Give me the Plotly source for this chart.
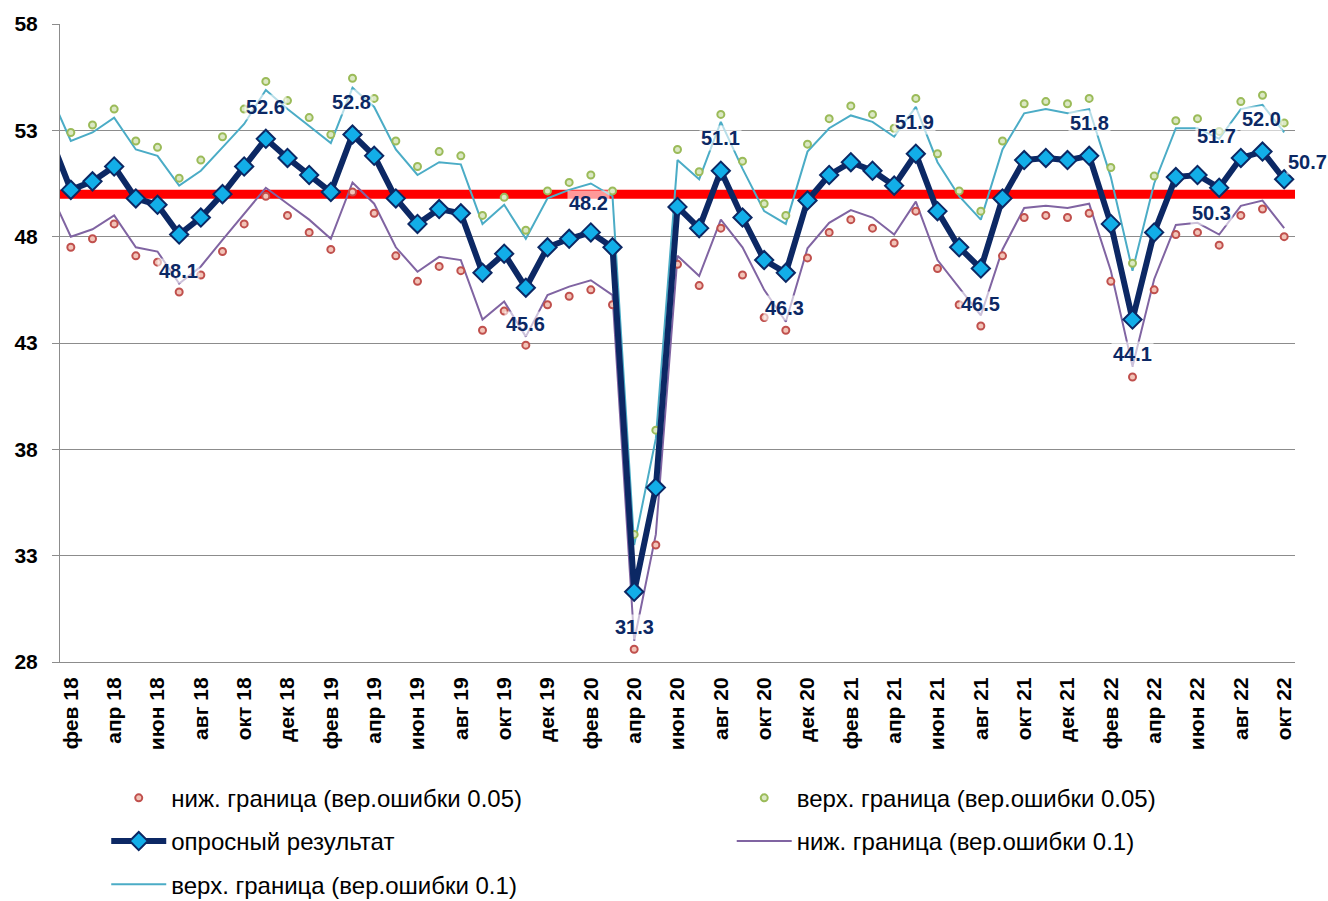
import plotly.graph_objects as go

# ---------------- data ----------------
MONTHS = [
    "янв 18", "фев 18", "мар 18", "апр 18", "май 18", "июн 18", "июл 18", "авг 18", "сен 18", "окт 18", "ноя 18", "дек 18",
    "янв 19", "фев 19", "мар 19", "апр 19", "май 19", "июн 19", "июл 19", "авг 19", "сен 19", "окт 19", "ноя 19", "дек 19",
    "янв 20", "фев 20", "мар 20", "апр 20", "май 20", "июн 20", "июл 20", "авг 20", "сен 20", "окт 20", "ноя 20", "дек 20",
    "янв 21", "фев 21", "мар 21", "апр 21", "май 21", "июн 21", "июл 21", "авг 21", "сен 21", "окт 21", "ноя 21", "дек 21",
    "янв 22", "фев 22", "мар 22", "апр 22", "май 22", "июн 22", "июл 22", "авг 22", "сен 22", "окт 22",
]

TICK_LABELS = [
    "фев 18", "апр 18", "июн 18", "авг 18", "окт 18", "дек 18",
    "фев 19", "апр 19", "июн 19", "авг 19", "окт 19", "дек 19",
    "фев 20", "апр 20", "июн 20", "авг 20", "окт 20", "дек 20",
    "фев 21", "апр 21", "июн 21", "авг 21", "окт 21", "дек 21",
    "фев 22", "апр 22", "июн 22", "авг 22", "окт 22",
]

SURVEY = [
    52.8,
    50.2, 50.6, 51.3, 49.8, 49.5, 48.1, 48.9, 50.0, 51.3, 52.6, 51.7, 50.9,
    50.1, 52.8, 51.8, 49.8, 48.6, 49.3, 49.1, 46.3, 47.2, 45.6, 47.5, 47.9,
    48.2, 47.5, 31.3, 36.2, 49.4, 48.4, 51.1, 48.9, 46.9, 46.3, 49.7, 50.9,
    51.5, 51.1, 50.4, 51.9, 49.2, 47.5, 46.5, 49.8, 51.6, 51.7, 51.6, 51.8,
    48.6, 44.1, 48.2, 50.8, 50.9, 50.3, 51.7, 52.0, 50.7,
]

UPPER_01 = [
    54.8,
    52.5, 52.9, 53.6, 52.1, 51.8, 50.4, 51.1, 52.2, 53.3, 54.9, 54.0, 53.2,
    52.4, 55.0, 54.1, 52.1, 50.9, 51.5, 51.4, 48.6, 49.5, 47.9, 49.8, 50.2,
    50.5, 49.9, 33.5, 38.5, 51.6, 50.7, 53.4, 51.2, 49.2, 48.6, 52.0, 53.1,
    53.7, 53.4, 52.7, 54.1, 51.5, 49.9, 48.8, 52.1, 53.8, 54.0, 53.8, 54.0,
    50.8, 46.4, 50.5, 53.1, 53.1, 52.6, 54.0, 54.2, 52.9,
]

LOWER_01 = [
    50.2,
    48.0, 48.35, 49.0, 47.5, 47.3, 45.8, 46.6, 47.85, 49.1, 50.3, 49.55, 48.8,
    47.9, 50.55, 49.55, 47.5, 46.35, 47.05, 46.9, 44.1, 44.95, 43.3, 45.25, 45.65,
    45.95, 45.25, 29.0, 34.0, 47.1, 46.15, 48.8, 47.5, 45.5, 44.0, 47.45, 48.65,
    49.25, 48.9, 48.1, 49.65, 46.9, 45.6, 44.3, 47.4, 49.35, 49.45, 49.35, 49.55,
    46.4, 41.9, 46.0, 48.55, 48.65, 48.1, 49.45, 49.7, 48.4,
]

UPPER_005 = [
    None,
    52.9, 53.25, 54.0, 52.5, 52.2, 50.75, 51.6, 52.7, 54.0, 55.3, 54.4, 53.6,
    52.8, 55.45, 54.5, 52.5, 51.3, 52.0, 51.8, 49.0, 49.85, 48.3, 50.15, 50.55,
    50.9, 50.15, 34.0, 38.9, 52.1, 51.05, 53.75, 51.55, 49.55, 49.0, 52.35, 53.55,
    54.15, 53.75, 53.1, 54.5, 51.9, 50.15, 49.2, 52.5, 54.25, 54.35, 54.25, 54.5,
    51.25, 46.75, 50.85, 53.45, 53.55, 52.95, 54.35, 54.65, 53.35,
]

LOWER_005 = [
    None,
    47.5, 47.9, 48.6, 47.1, 46.8, 45.4, 46.2, 47.3, 48.6, 49.9, 49.0, 48.2,
    47.4, 50.1, 49.1, 47.1, 45.9, 46.6, 46.4, 43.6, 44.5, 42.9, 44.8, 45.2,
    45.5, 44.8, 28.6, 33.5, 46.7, 45.7, 48.4, 46.2, 44.2, 43.6, 47.0, 48.2,
    48.8, 48.4, 47.7, 49.2, 46.5, 44.8, 43.8, 47.1, 48.9, 49.0, 48.9, 49.1,
    45.9, 41.4, 45.5, 48.1, 48.2, 47.6, 49.0, 49.3, 48.0,
]

LABELED_MONTHS = ["июл 18", "ноя 18", "мар 19", "ноя 19", "фев 20", "апр 20", "авг 20", "ноя 20",
                  "май 21", "авг 21", "янв 22", "мар 22", "июл 22", "авг 22", "сен 22", "окт 22"]

THRESHOLD = 50
Y_TICKS = [28, 33, 38, 43, 48, 53, 58]

# ---------------- style ----------------
# label offsets in pixels (xshift, yshift), same order as LABELED_MONTHS
LABEL_OFFSETS = [(-1, -36), (0, 32), (-1, 33), (0, -36), (-2, 29), (0, -35), (0, 33), (-1, -35),
                 (-1, 32), (0, -35), (0, 33), (0, -34), (-8, -25), (-24, 22), (-1, 33), (23, 17)]

NAVY = "#0c2864"
FONT = "Liberation Sans, Arial, sans-serif"

# categorical positions: фев 18 sits at 0
X = [i - 1 for i in range(len(MONTHS))]

fig = go.Figure()

fig.add_trace(go.Scatter(
    x=X, y=UPPER_01, mode="lines", name="верх. граница (вер.ошибки 0.1)",
    line=dict(color="#4bacc6", width=2), legend="legend", legendrank=3,
    legendgroup="g5",
))
fig.add_trace(go.Scatter(
    x=X, y=LOWER_01, mode="lines", name="ниж. граница (вер.ошибки 0.1)",
    line=dict(color="#8064a2", width=2), legend="legend2", legendrank=2,
    legendgroup="g4",
))
fig.add_trace(go.Scatter(
    x=X, y=LOWER_005, mode="markers", name="ниж. граница (вер.ошибки 0.05)",
    marker=dict(symbol="circle", size=7, color="#f2c4b8", line=dict(color="#c0504d", width=2)),
    legend="legend", legendrank=1, legendgroup="g1",
))
fig.add_trace(go.Scatter(
    x=X, y=UPPER_005, mode="markers", name="верх. граница (вер.ошибки 0.05)",
    marker=dict(symbol="circle", size=7, color="#dbe8c4", line=dict(color="#9bbb59", width=2)),
    legend="legend2", legendrank=1, legendgroup="g2",
))
fig.add_trace(go.Scatter(
    x=X, y=SURVEY, mode="lines+markers", name="опросный результат",
    line=dict(color=NAVY, width=6),
    marker=dict(symbol="diamond", size=14, color="#12aee8", line=dict(color=NAVY, width=2)),
    legend="legend", legendrank=2, legendgroup="g3",
))

fig.add_shape(type="line", xref="paper", x0=0, x1=1, yref="y", y0=THRESHOLD, y1=THRESHOLD,
              line=dict(color="#ff0000", width=9), layer="between")

for m, (dx, dy) in zip(LABELED_MONTHS, LABEL_OFFSETS):
    k = MONTHS.index(m)
    fig.add_annotation(
        x=X[k], y=SURVEY[k], text=f"{SURVEY[k]:.1f}", showarrow=False,
        xshift=dx, yshift=dy, bgcolor="rgba(255,255,255,0.6)", borderpad=1,
        font=dict(family=FONT, size=20, color=NAVY, weight="bold"),
    )

tickvals = [X[MONTHS.index(t)] for t in TICK_LABELS]

legend_common = dict(
    xref="container", yref="container", xanchor="left", yanchor="top", orientation="v",
    font=dict(family=FONT, size=24, color="black"), bgcolor="rgba(0,0,0,0)",
    itemwidth=55, traceorder="grouped", tracegroupgap=9,
)

fig.update_layout(
    width=1328, height=901,
    margin=dict(l=60, r=33, t=24, b=239, autoexpand=False),
    paper_bgcolor="white", plot_bgcolor="white",
    font=dict(family=FONT, color="black"),
    showlegend=True,
    xaxis=dict(
        range=[-0.5, len(MONTHS) - 1.5], tickmode="array", tickvals=tickvals, ticktext=TICK_LABELS,
        tickangle=-90, tickfont=dict(family=FONT, size=21, color="black", weight="bold"),
        showgrid=False, zeroline=False, showline=True, linecolor="#8c8c8c", linewidth=1,
        ticks="", ticklabelstandoff=6, automargin=False,
    ),
    yaxis=dict(
        range=[28, 58], tickmode="array", tickvals=Y_TICKS,
        tickfont=dict(family=FONT, size=21, color="black", weight="bold"),
        showgrid=True, gridcolor="#8c8c8c", gridwidth=1, zeroline=False,
        showline=True, linecolor="#8c8c8c", linewidth=1,
        ticks="outside", ticklen=7, tickcolor="#8c8c8c", ticklabelstandoff=10, automargin=False,
    ),
    legend=dict(x=0.080, y=0.139, **legend_common),
    legend2=dict(x=0.551, y=0.139, **legend_common),
)

fig.write_html("out.html", config={"displayModeBar": False},
               post_script="document.body.style.margin='0';")
